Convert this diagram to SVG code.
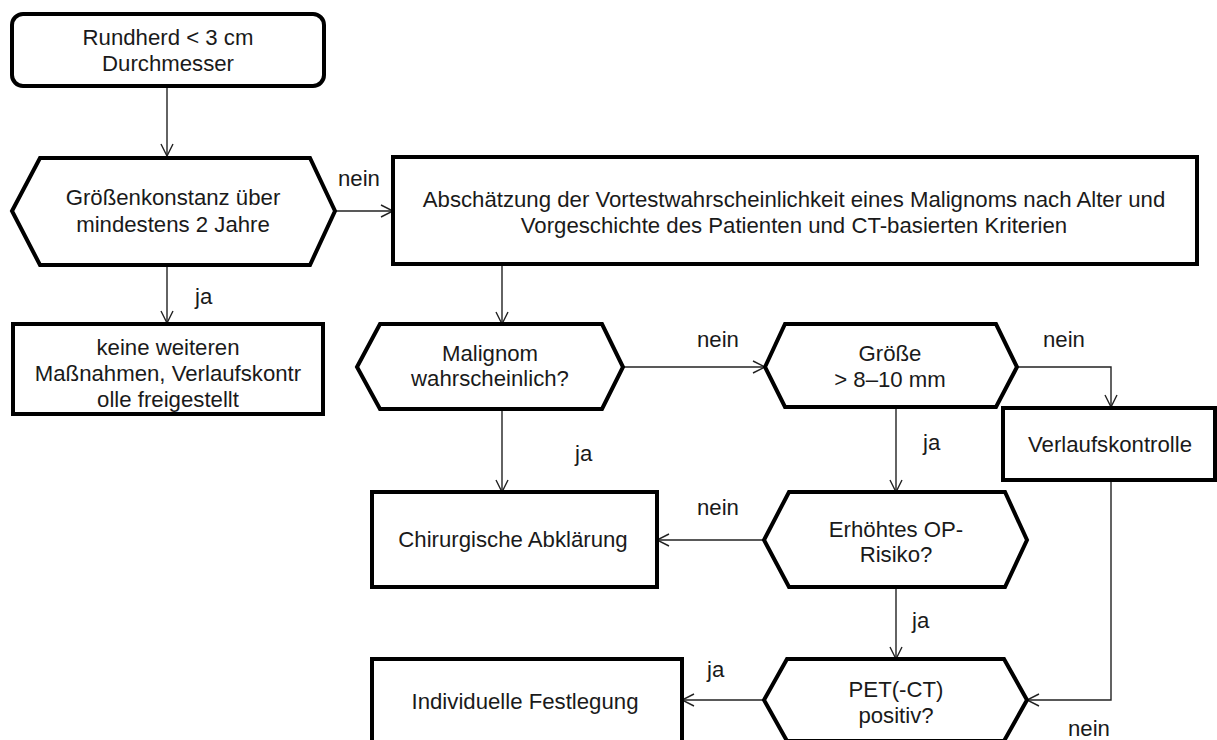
<svg xmlns="http://www.w3.org/2000/svg" width="1217" height="740" viewBox="0 0 1217 740">
<defs>
<marker id="arr" markerUnits="userSpaceOnUse" markerWidth="14" markerHeight="14" viewBox="0 0 14 14" refX="13" refY="7" orient="auto">
<path d="M1,1 L13,7 L1,13" fill="none" stroke="#222" stroke-width="1.4"/>
</marker>
<style>
.n{fill:#fff;stroke:#000;stroke-width:4;stroke-linejoin:miter}
.t{font-family:"Liberation Sans",Arial,sans-serif;font-size:22.2px;fill:#1a1a1a;text-anchor:middle}
.l{font-family:"Liberation Sans",Arial,sans-serif;font-size:22.2px;fill:#1a1a1a}
.c{fill:none;stroke:#222;stroke-width:1.4}
</style>
</defs>
<rect width="1217" height="740" fill="#fff"/>
<g id="connectors">
<path class="c" d="M167,86 V156" marker-end="url(#arr)"/>
<path class="c" d="M335,211 H393" marker-end="url(#arr)"/>
<path class="c" d="M167,265 V323" marker-end="url(#arr)"/>
<path class="c" d="M502,264 V324" marker-end="url(#arr)"/>
<path class="c" d="M623,367 H765" marker-end="url(#arr)"/>
<path class="c" d="M502,409 V492" marker-end="url(#arr)"/>
<path class="c" d="M1017,367 H1111 V407" marker-end="url(#arr)"/>
<path class="c" d="M896,407 V492" marker-end="url(#arr)"/>
<path class="c" d="M764,540 H657" marker-end="url(#arr)"/>
<path class="c" d="M896,587 V659" marker-end="url(#arr)"/>
<path class="c" d="M1111,480 V700 H1027" marker-end="url(#arr)"/>
<path class="c" d="M764,700 H682" marker-end="url(#arr)"/>
<text class="l" x="338" y="186">nein</text>
<text class="l" x="195" y="304">ja</text>
<text class="l" x="697" y="347">nein</text>
<text class="l" x="1043" y="347">nein</text>
<text class="l" x="575" y="461">ja</text>
<text class="l" x="923" y="450">ja</text>
<text class="l" x="697" y="515">nein</text>
<text class="l" x="912" y="628">ja</text>
<text class="l" x="707" y="677">ja</text>
<text class="l" x="1068" y="736">nein</text>
</g>
<g id="n-rundherd">
<rect class="n" x="12" y="14" width="312" height="72" rx="11"/>
<text class="t" x="168" y="45">Rundherd &lt; 3 cm</text>
<text class="t" x="168" y="71">Durchmesser</text>
</g>
<g id="n-groessenkonstanz">
<polygon class="n" points="12,211 40,158 310,158 335,211 310,265 40,265"/>
<text class="t" x="173" y="205">Größenkonstanz über</text>
<text class="t" x="173" y="232">mindestens 2 Jahre</text>
</g>
<g id="n-keine">
<rect class="n" x="13" y="324" width="310" height="90"/>
<text class="t" x="168" y="355">keine weiteren</text>
<text class="t" x="168" y="381">Maßnahmen, Verlaufskontr</text>
<text class="t" x="168" y="407">olle freigestellt</text>
</g>
<g id="n-abschaetzung">
<rect class="n" x="393" y="157" width="804" height="107"/>
<text class="t" x="794" y="207">Abschätzung der Vortestwahrscheinlichkeit eines Malignoms nach Alter und</text>
<text class="t" x="794" y="233">Vorgeschichte des Patienten und CT-basierten Kriterien</text>
</g>
<g id="n-malignom">
<polygon class="n" points="357,367 380,324 602,324 623,367 602,409 380,409"/>
<text class="t" x="490" y="361">Malignom</text>
<text class="t" x="490" y="386">wahrscheinlich?</text>
</g>
<g id="n-groesse">
<polygon class="n" points="765,367 785,324 996,324 1017,367 996,407 785,407"/>
<text class="t" x="890" y="361">Größe</text>
<text class="t" x="890" y="387">&gt; 8–10 mm</text>
</g>
<g id="n-verlauf">
<rect class="n" x="1003" y="408" width="212" height="72"/>
<text class="t" x="1110" y="452">Verlaufskontrolle</text>
</g>
<g id="n-chirurgisch">
<rect class="n" x="372" y="492" width="285" height="95"/>
<text class="t" x="513" y="547">Chirurgische Abklärung</text>
</g>
<g id="n-erhoeht">
<polygon class="n" points="764,540 789,492 1005,492 1027,540 1005,587 789,587"/>
<text class="t" x="896" y="537">Erhöhtes OP-</text>
<text class="t" x="896" y="562">Risiko?</text>
</g>
<g id="n-pet">
<polygon class="n" points="764,700 787,659 1004,659 1027,700 1004,741 787,741"/>
<text class="t" x="896" y="697">PET(-CT)</text>
<text class="t" x="896" y="723">positiv?</text>
</g>
<g id="n-individuell">
<rect class="n" x="372" y="659" width="310" height="95"/>
<text class="t" x="525" y="709">Individuelle Festlegung</text>
</g>
</svg>
